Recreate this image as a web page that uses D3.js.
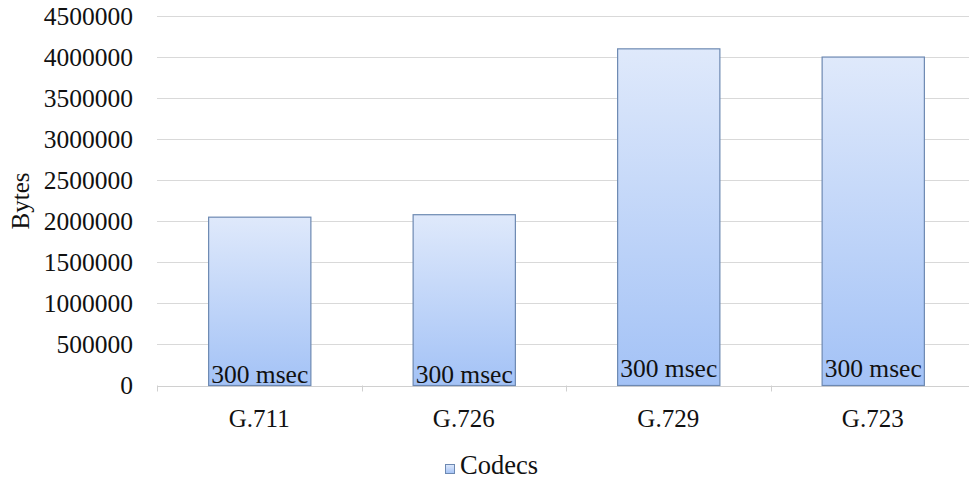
<!DOCTYPE html>
<html><head><meta charset="utf-8">
<script src="https://cdn.jsdelivr.net/npm/d3@7"></script>
<style>body{margin:0;background:#fff}</style>
</head><body><svg id="c" width="969" height="485"></svg>
<script>
const categories = ["G.711", "G.726", "G.729", "G.723"];
const values = [2050000, 2080000, 4100000, 4000000];
const barLabels = ["300 msec", "300 msec", "300 msec", "300 msec"];
const yTicks = [0, 500000, 1000000, 1500000, 2000000, 2500000, 3000000, 3500000, 4000000, 4500000];
const seriesName = "Codecs";
const yTitle = "Bytes";

const FONT = "'Liberation Serif', 'Times New Roman', 'DejaVu Serif', serif";
const svg = d3.select("#c");
const pLeft = 157, pRight = 975, pTop = 16, pBottom = 385.5;
const x = d3.scaleBand().domain(categories).range([pLeft, pRight]).paddingInner(0.5).paddingOuter(0.25);
const y = d3.scaleLinear().domain([0, 4500000]).range([pBottom, pTop]);

const defs = svg.append("defs");
const g = defs.append("linearGradient").attr("id","bg").attr("x1",0).attr("y1",0).attr("x2",0).attr("y2",1);
g.append("stop").attr("offset","0%").attr("stop-color","#dfe9fb");
g.append("stop").attr("offset","100%").attr("stop-color","#a3c2f6");

function styleText(sel, size){ sel.style("font-family",FONT).style("font-size",size+"px").style("fill","#111"); }

// gridlines
svg.append("g").selectAll("line").data(yTicks.filter(t=>t>0)).join("line")
  .attr("x1",pLeft).attr("x2",969).attr("y1",d=>Math.round(y(d))+0.5).attr("y2",d=>Math.round(y(d))+0.5)
  .attr("stroke","#d9d9d9").attr("stroke-width",1);

// y axis labels
const ya = svg.append("g").attr("transform",`translate(${pLeft},0)`)
  .call(d3.axisLeft(y).tickValues(yTicks).tickFormat(d3.format("d")).tickSize(0).tickPadding(24));
ya.select(".domain").remove();
styleText(ya.selectAll("text"), 25.5);

// x axis
const xa = svg.append("g").attr("transform",`translate(0,${Math.round(pBottom)+0.5})`)
  .call(d3.axisBottom(x).tickSize(0).tickPadding(23));
xa.select(".domain").attr("stroke","#d0d0d0").attr("d",`M${pLeft},0H969`);
styleText(xa.selectAll("text"), 25);
const step = x.step();
svg.append("g").selectAll("line").data(d3.range(categories.length)).join("line")
  .attr("x1",(d)=>Math.round(pLeft + step*d)+0.5).attr("x2",(d)=>Math.round(pLeft + step*d)+0.5)
  .attr("y1",pBottom).attr("y2",pBottom+6).attr("stroke","#d0d0d0");

// bars
const data = categories.map((c,i)=>({c, v:values[i], l:barLabels[i]}));
svg.append("g").selectAll("rect").data(data).join("rect")
  .attr("x",d=>x(d.c)+0.5).attr("y",d=>y(d.v)).attr("width",x.bandwidth())
  .attr("height",d=>y(0)-y(d.v)).attr("fill","url(#bg)").attr("stroke","#6d89b2").attr("stroke-width",1.2);

const bl = svg.append("g").selectAll("text").data(data).join("text")
  .attr("x",d=>x(d.c)+x.bandwidth()/2+0.5).attr("y",d=>y(0) - (d.v>3000000?8.5:2.5))
  .attr("text-anchor","middle").text(d=>d.l);
styleText(bl, 25.5);

// y title
const yt = svg.append("text").attr("transform","translate(29,201) rotate(-90)").attr("text-anchor","middle").text(yTitle);
styleText(yt, 25);

// legend
const lg = svg.append("g");
lg.append("rect").attr("x",445.5).attr("y",464.5).attr("width",9).attr("height",9)
  .attr("fill","url(#bg)").attr("stroke","#6d89b2");
styleText(lg.append("text").attr("x",460).attr("y",474).text(seriesName), 26.5);
</script></body></html>
